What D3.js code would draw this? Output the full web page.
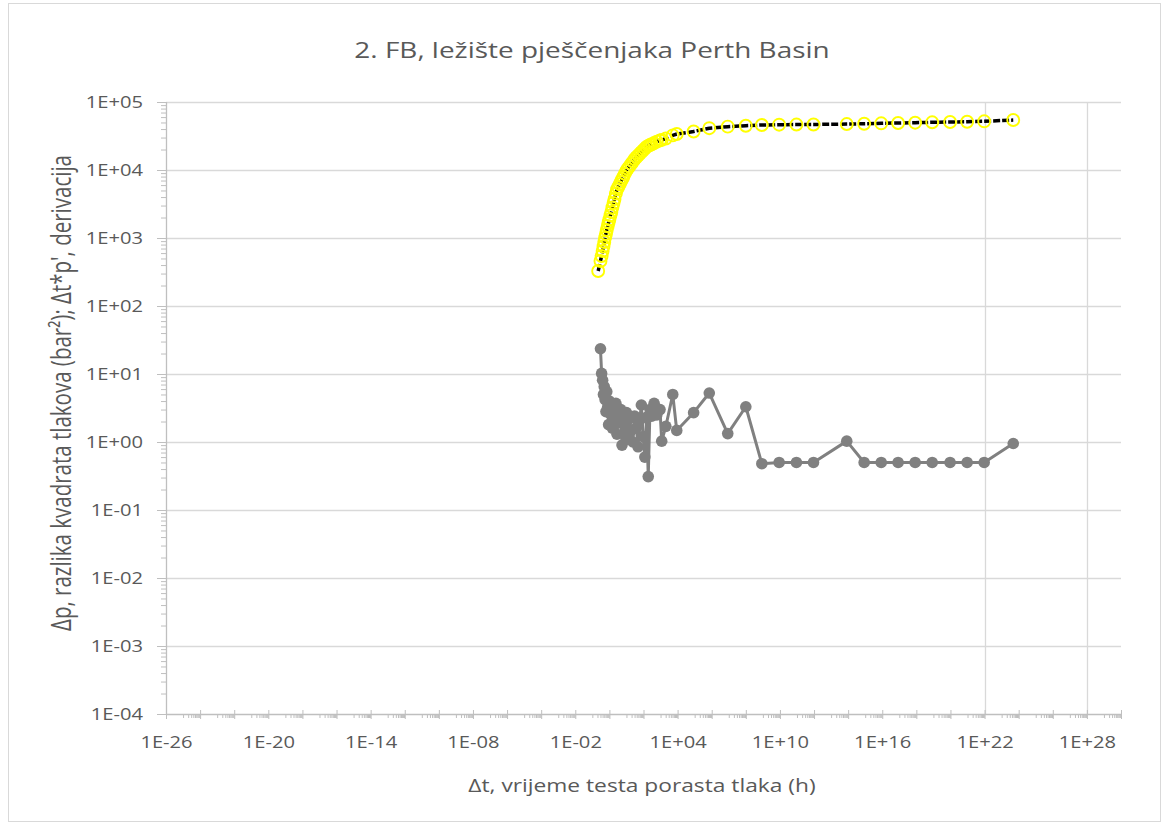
<!DOCTYPE html>
<html>
<head>
<meta charset="utf-8">
<script src="https://cdn.jsdelivr.net/npm/d3@7/dist/d3.min.js"></script>
<style>
  html, body { margin: 0; padding: 0; background: #ffffff; }
  svg text { font-family: "Open Sans", "Liberation Sans", sans-serif; fill: #595959; }
</style>
</head>
<body>
<svg id="chart" width="1169" height="825"></svg>
<script>
// ---------------- data ----------------
const chartTitle = "2. FB, ležište pješčenjaka Perth Basin";
const xAxisTitle = "\u0394t, vrijeme testa porasta tlaka (h)";
const yAxisTitle = "\u0394p, razlika kvadrata tlakova (bar\u00B2); \u0394t*p', derivacija";

const xTickValues = [1e-26, 1e-20, 1e-14, 1e-8, 1e-2, 1e4, 1e10, 1e16, 1e22, 1e28];
const xTickLabels = ["1E-26", "1E-20", "1E-14", "1E-08", "1E-02", "1E+04", "1E+10", "1E+16", "1E+22", "1E+28"];
const xGridValues = [1e22, 1e28];
const yTickValues = [1e-4, 1e-3, 1e-2, 1e-1, 1e0, 1e1, 1e2, 1e3, 1e4, 1e5];
const yTickLabels = ["1E-04", "1E-03", "1E-02", "1E-01", "1E+00", "1E+01", "1E+02", "1E+03", "1E+04", "1E+05"];

// time (h)
const timeH = [
  0.22, 0.3, 0.35, 0.4, 0.45, 0.5, 0.56, 0.63, 0.7, 0.8,
  0.9, 1.0, 1.15, 1.3, 1.5, 1.75, 2.0, 2.4, 2.8, 3.3,
  4.0, 4.7, 5.5, 6.5, 8, 10, 12, 15, 19, 24,
  30, 38, 48, 60, 75, 95, 120, 150, 190, 240,
  300, 420, 600, 930, 1170, 2040, 5200, 8900, 8.7e4, 7.2e5,
  8.7e6, 1e8, 8.7e8, 9e9, 9.3e10, 9.3e11, 8.3e13, 8.7e14, 8.7e15, 8.5e16,
  8.5e17, 8.5e18, 9.5e19, 9.5e20, 9.5e21, 4.8e23
];
// pressure-squared difference (bar^2)
const deltaP = [
  327, 459, 544, 644, 750, 873, 1010, 1145, 1312, 1500,
  1690, 1870, 2140, 2410, 2810, 3270, 3750, 4500, 5190, 5620,
  6180, 6700, 7270, 7890, 8790, 9800, 10500, 11300, 12300, 13300,
  14400, 15400, 16300, 17300, 18300, 19400, 20600, 21900, 22600, 23300,
  23900, 24900, 26100, 27200, 27700, 29000, 32300, 33800, 36800, 41200,
  43400, 44800, 45900, 46400, 46600, 46700, 47400, 47900, 48600, 49100,
  49600, 50300, 50800, 51300, 52000, 54300
];
// derivative dt*p'
const derivative = [
  null, 23.5, 10.2, 8.1, 5.0, 6.5, 4.2, 2.8, 5.5, 3.3,
  1.8, 4.0, 2.6, 3.6, 1.6, 2.9, 2.2, 3.7, 1.3, 2.5,
  1.9, 3.0, 0.9, 2.0, 1.4, 2.7, 1.1, 2.2, 1.5, 1.0,
  2.4, 1.6, 0.85, 2.1, 3.5, 1.2, 0.6, 2.3, 0.31, 3.0,
  2.4, 3.7, 2.5, 3.0, 1.03, 1.7, 5.0, 1.48, 2.7, 5.25,
  1.33, 3.3, 0.48, 0.5, 0.5, 0.5, 1.03, 0.5, 0.5, 0.5,
  0.5, 0.5, 0.5, 0.5, 0.5, 0.95
];

// ---------------- layout ----------------
const svg = d3.select("#chart");
const W = 1169, H = 825;
const plot = { left: 166, right: 1121, top: 102, bottom: 714 };
const TX = 1.3; // horizontal text stretch of the reference

svg.append("rect").attr("x", 8.5).attr("y", 3.5).attr("width", W - 17).attr("height", H - 7)
  .attr("fill", "#ffffff").attr("stroke", "#d9d9d9").attr("stroke-width", 1);

const x = d3.scaleLog().domain([1e-26, 1e30]).range([plot.left, plot.right]);
const y = d3.scaleLog().domain([1e-4, 1e5]).range([plot.bottom, plot.top]);

// gridlines
const grid = svg.append("g");
grid.selectAll("line.hg").data(yTickValues.slice(1)).join("line")
  .attr("x1", plot.left).attr("x2", plot.right)
  .attr("y1", d => Math.round(y(d)) + 0.5).attr("y2", d => Math.round(y(d)) + 0.5)
  .attr("stroke", "#d9d9d9").attr("stroke-width", 1.3);
grid.selectAll("line.vg").data(xGridValues).join("line")
  .attr("x1", d => Math.round(x(d)) + 0.5).attr("x2", d => Math.round(x(d)) + 0.5)
  .attr("y1", plot.top).attr("y2", plot.bottom)
  .attr("stroke", "#d9d9d9").attr("stroke-width", 1.3);

// minor ticks (x axis: base-100 log axis, minors at 10..90 x major)
const xMajors = d3.range(-26, 31, 2).map(e => Math.pow(10, e));
const xMinors = [];
xMajors.slice(0, -1).forEach(m => { for (let k = 10; k < 100; k += 10) xMinors.push(m * k); });
const yMinors = [];
yTickValues.slice(0, -1).forEach(m => { for (let k = 2; k < 10; k++) yMinors.push(m * k); });

const axisColor = "#bfbfbf";
const xMinorAxis = svg.append("g").attr("transform", `translate(0,${plot.bottom})`)
  .call(d3.axisBottom(x).tickValues(xMinors).tickSize(4).tickFormat(""));
const xMajorAxis = svg.append("g").attr("transform", `translate(0,${plot.bottom})`)
  .call(d3.axisBottom(x).tickValues(xMajors).tickSize(5).tickFormat(""));
xMajorAxis.selectAll(".tick line").attr("y1", -4);
const yMinorAxis = svg.append("g").attr("transform", `translate(${plot.left},0)`)
  .call(d3.axisLeft(y).tickValues(yMinors).tickSize(5).tickFormat(""));
[xMinorAxis, xMajorAxis, yMinorAxis].forEach(g => {
  g.select(".domain").remove();
  g.selectAll(".tick line").attr("stroke", axisColor);
});

// labelled axes
const xAxis = svg.append("g").attr("transform", `translate(0,${plot.bottom})`)
  .call(d3.axisBottom(x).tickValues(xTickValues).tickSize(0).tickPadding(0)
    .tickFormat((d, i) => xTickLabels[i]));
xAxis.select(".domain").attr("stroke", axisColor).attr("stroke-width", 1.3).attr("d", `M${plot.left},0.5H${plot.right}`);
xAxis.selectAll(".tick text").attr("y", 34).attr("dy", 0)
  .attr("font-size", 15.5).attr("transform", `scale(${TX},1)`);

const yAxis = svg.append("g").attr("transform", `translate(${plot.left},0)`)
  .call(d3.axisLeft(y).tickValues(yTickValues).tickSize(9).tickPadding(0)
    .tickFormat((d, i) => yTickLabels[i]));
yAxis.select(".domain").attr("stroke", axisColor).attr("stroke-width", 1.3).attr("d", `M0.5,${plot.bottom}V${plot.top}`);
yAxis.selectAll(".tick line").attr("stroke", axisColor);
yAxis.selectAll(".tick text").attr("x", -23 / TX).attr("dy", "0.35em")
  .attr("font-size", 15.5).attr("transform", `scale(${TX},1)`);

// ---------------- series ----------------
const pts = timeH.map((t, i) => ({ t, p: deltaP[i], d: derivative[i] }));
const derPts = pts.filter(d => d.d != null);

svg.append("path").datum(derPts)
  .attr("fill", "none").attr("stroke", "#808080").attr("stroke-width", 3).attr("stroke-linejoin", "round")
  .attr("d", d3.line().x(d => x(d.t)).y(d => y(d.d)));
svg.append("g").selectAll("circle").data(derPts).join("circle")
  .attr("cx", d => x(d.t)).attr("cy", d => y(d.d)).attr("r", 5.8)
  .attr("fill", "#808080");

svg.append("path").datum(pts)
  .attr("fill", "none").attr("stroke", "#000000").attr("stroke-width", 3.5)
  .attr("stroke-dasharray", "7,2")
  .attr("d", d3.line().x(d => x(d.t)).y(d => y(d.p)));
svg.append("g").selectAll("circle").data(pts).join("circle")
  .attr("cx", d => x(d.t)).attr("cy", d => y(d.p)).attr("r", 6)
  .attr("fill", "none").attr("stroke", "#ffff00").attr("stroke-width", 1.9);

// ---------------- titles ----------------
svg.append("text").attr("transform", `translate(592,58) scale(${TX},1)`)
  .attr("text-anchor", "middle").attr("font-size", 21.5).text(chartTitle);
svg.append("text").attr("transform", `translate(642,792) scale(${TX},1)`)
  .attr("text-anchor", "middle").attr("font-size", 17.5).text(xAxisTitle);
svg.append("text").attr("transform", `translate(71,393) scale(${TX},1) rotate(-90)`)
  .attr("text-anchor", "middle").attr("font-size", 20.5).text(yAxisTitle);
</script>
</body>
</html>
